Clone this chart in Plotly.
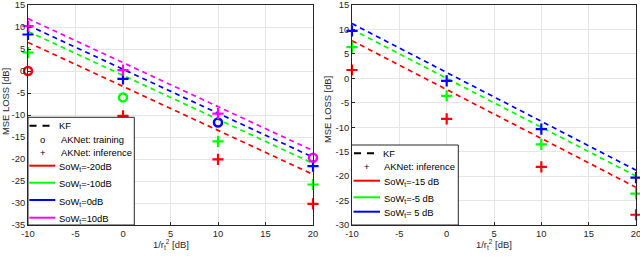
import plotly.graph_objects as go

# ---------------- data ----------------
x_vals = [-10, 0, 10, 20]
x_ticks = [-10, -5, 0, 5, 10, 15, 20]
x_ticktext = ["-10", "-5", "0", "5", "10", "15", "20"]
left_yticks = [-35, -30, -25, -20, -15, -10, -5, 0, 5, 10, 15]
left_yticktext = ["-35", "-30", "-25", "-20", "-15", "-10", "-5", "0", "5", "10", "15"]
right_yticks = [-30, -25, -20, -15, -10, -5, 0, 5, 10, 15]
right_yticktext = ["-30", "-25", "-20", "-15", "-10", "-5", "0", "5", "10", "15"]

# left panel
left_labels = ["SoW<sub>t</sub>=-20dB", "SoW<sub>t</sub>=-10dB", "SoW<sub>t</sub>=0dB", "SoW<sub>t</sub>=10dB"]
left_colors = ["#ff0000", "#00ff00", "#0000ff", "#ff00ff"]
left_kf = [
    [6.5, -3.5, -13.5, -23.5],
    [9.0, -1.0, -11.0, -21.0],
    [10.4, 0.4, -9.6, -19.6],
    [11.9, 1.9, -8.1, -18.1],
]
left_aknet = [
    [0.0, -10.2, -20.1, -30.2],
    [4.2, -6.0, -16.0, -25.8],
    [8.3, -1.8, -11.7, -21.6],
    [10.2, 0.2, -9.7, -19.7],
]
left_train_idx = [0, 1, 2, 3]

# right panel
right_labels = ["SoW<sub>t</sub>=-15 dB", "SoW<sub>t</sub>=-5 dB", "SoW<sub>t</sub>= 5 dB"]
right_colors = ["#ff0000", "#00ff00", "#0000ff"]
right_kf = [
    [7.7, -2.3, -12.3, -22.3],
    [10.0, 0.0, -10.0, -20.0],
    [11.2, 1.2, -8.8, -18.8],
]
right_aknet = [
    [1.7, -8.3, -18.1, -27.9],
    [6.4, -3.6, -13.5, -23.6],
    [9.7, -0.5, -10.4, -20.3],
]

# ---------------- styling ----------------
FONT = "Liberation Sans, Arial, sans-serif"
FS = 9.4
TXT = "#262626"
W, H = 640, 258
ML, MR, MT, MB = 28, 4, 5, 33


def px(xp):
    return (xp - ML) / (W - ML - MR)


def py(yp):
    return (H - MB - yp) / (H - MT - MB)


fig = go.Figure()


def add_data(xa, ya, colors, kf, ak, train_idx):
    for i, c in enumerate(colors):
        fig.add_trace(go.Scatter(x=x_vals, y=kf[i], mode="lines", showlegend=False,
                                 line=dict(color=c, dash="5px,4px", width=1.7),
                                 xaxis=xa, yaxis=ya, cliponaxis=False, hoverinfo="skip"))
    for i, c in enumerate(colors):
        keep = [j for j in range(len(x_vals)) if train_idx is None or j != train_idx[i]]
        fig.add_trace(go.Scatter(x=[x_vals[j] for j in keep], y=[ak[i][j] for j in keep],
                                 mode="markers", showlegend=False,
                                 marker=dict(symbol="cross-thin", size=8, line=dict(width=2.2, color=c)),
                                 xaxis=xa, yaxis=ya, cliponaxis=False))
        if train_idx is not None:
            j = train_idx[i]
            fig.add_trace(go.Scatter(x=[x_vals[j]], y=[ak[i][j]], mode="markers", showlegend=False,
                                     marker=dict(symbol="circle-open", size=8, color=c,
                                                 line=dict(width=2.5, color=c)),
                                     xaxis=xa, yaxis=ya, cliponaxis=False))


add_data("x", "y", left_colors, left_kf, left_aknet, left_train_idx)
add_data("x2", "y2", right_colors, right_kf, right_aknet, None)

shapes = []
annotations = []


def add_legend(box, kf_y, kf_x, text_x, sym_x, sym_rows, color_rows, color_line_x, color_text_x,
               labels, colors):
    x0, x1, y0, y1 = box
    shapes.append(dict(type="rect", xref="paper", yref="paper", x0=px(x0), x1=px(x1), y0=py(y1), y1=py(y0),
                       fillcolor="white", line=dict(color=TXT, width=1), layer="above"))
    # KF dashed sample
    shapes.append(dict(type="line", xref="paper", yref="paper", x0=px(kf_x[0]), x1=px(kf_x[1]),
                       y0=py(kf_y), y1=py(kf_y), line=dict(color="black", width=2, dash="7px,6px"),
                       layer="above"))
    annotations.append(dict(text="KF", xref="paper", yref="paper", x=px(text_x[0]), y=py(kf_y),
                            xanchor="left", yanchor="middle", showarrow=False,
                            font=dict(family=FONT, size=FS, color="black")))
    for sym, lab, yy in sym_rows:
        annotations.append(dict(text=sym, xref="paper", yref="paper", x=px(sym_x), y=py(yy),
                                xanchor="center", yanchor="middle", showarrow=False,
                                font=dict(family=FONT, size=FS, color="black")))
        annotations.append(dict(text=lab, xref="paper", yref="paper", x=px(text_x[1]), y=py(yy),
                                xanchor="left", yanchor="middle", showarrow=False,
                                font=dict(family=FONT, size=FS, color="black")))
    for lab, c, yy in zip(labels, colors, color_rows):
        shapes.append(dict(type="line", xref="paper", yref="paper", x0=px(color_line_x[0]),
                           x1=px(color_line_x[1]), y0=py(yy), y1=py(yy),
                           line=dict(color=c, width=2), layer="above"))
        annotations.append(dict(text=lab, xref="paper", yref="paper", x=px(color_text_x), y=py(yy + 1.5),
                                xanchor="left", yanchor="middle", showarrow=False,
                                font=dict(family=FONT, size=FS, color="black")))


add_legend(box=(28, 134.3, 117.3, 225), kf_y=125.7, kf_x=(29.5, 50), text_x=(56.5, 58.5), sym_x=42.7,
           sym_rows=[("o", "AKNet: training", 139.3), ("+", "AKNet: inference", 152.5)],
           color_rows=[165.7, 182.7, 200, 217.7], color_line_x=(29.3, 55.3), color_text_x=56.5,
           labels=left_labels, colors=left_colors)
add_legend(box=(351.5, 458.3, 145, 225), kf_y=153.3, kf_x=(354, 375.5), text_x=(381, 381.5), sym_x=367.3,
           sym_rows=[("+", "AKNet: inference", 166)],
           color_rows=[180.7, 197.3, 211.7], color_line_x=(353.5, 380), color_text_x=381.5,
           labels=right_labels, colors=right_colors)

# axis titles
for xc in (170.5, 494):
    annotations.append(dict(text="1/r<sub>t</sub><sup>2</sup> [dB]", xref="paper", yref="paper",
                            x=px(xc), y=py(244), xanchor="center", yanchor="middle", showarrow=False,
                            font=dict(family=FONT, size=FS, color=TXT)))
for xc, yc in ((5, 102), (327, 110)):
    annotations.append(dict(text="MSE LOSS [dB]", xref="paper", yref="paper", textangle=-90,
                            x=px(xc), y=py(yc), xanchor="center", yanchor="middle", showarrow=False,
                            font=dict(family=FONT, size=FS, color=TXT)))

axis_common = dict(showgrid=True, gridcolor="#e6e6e6", gridwidth=1, zeroline=False,
                   showline=True, linecolor=TXT, linewidth=1, mirror=True,
                   ticks="inside", ticklen=3, tickcolor=TXT, automargin=False,
                   ticklabeloverflow="allow",
                   tickfont=dict(family=FONT, size=FS, color=TXT))

fig.update_layout(
    width=W, height=H,
    margin=dict(l=ML, r=MR, t=MT, b=MB),
    plot_bgcolor="white", paper_bgcolor="white",
    showlegend=False,
    xaxis=dict(domain=[0, px(313)], range=[-10, 20], tickvals=x_ticks, ticktext=x_ticktext, **axis_common),
    yaxis=dict(range=[-35, 15], tickvals=left_yticks, ticktext=left_yticktext, **axis_common),
    xaxis2=dict(domain=[px(352), 1.0], range=[-10, 20], tickvals=x_ticks, ticktext=x_ticktext,
                anchor="y2", **axis_common),
    yaxis2=dict(range=[-30, 15], tickvals=right_yticks, ticktext=right_yticktext, anchor="x2",
                **axis_common),
    shapes=shapes,
    annotations=annotations,
)

fig.write_html("out.html", config={"displayModeBar": False},
               post_script="document.body.style.margin='0px';")
